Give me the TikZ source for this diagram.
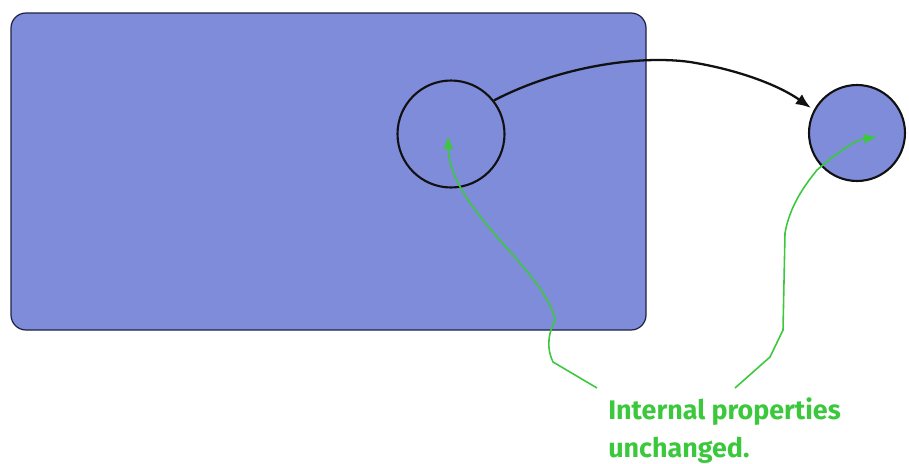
\documentclass[tikz,border=0pt]{standalone}
\usepackage{fontspec}
\setsansfont{Fira Sans}
\usetikzlibrary{arrows.meta,calc,positioning}
\definecolor{ink}{HTML}{111111}
\definecolor{slab}{HTML}{7F8CDA}
\definecolor{slabedge}{HTML}{1F2240}
\definecolor{mark}{HTML}{3CC83C}
\tikzset{
  bulk/.style={draw=slabedge,fill=slab,line width=0.7pt,rounded corners=0.3cm},
  zone/.style={circle,draw=ink,line width=1.2pt,inner sep=0pt},
  carry/.style={-{Latex[length=3mm,width=2.4mm]},line width=1.3pt,draw=ink},
  pointer/.style={-{Latex[length=2.6mm,width=2mm]},line width=0.9pt,draw=mark}
}
\begin{document}
\begin{tikzpicture}[
    x=0.02cm,y=-0.02cm,
    note/.style={font=\sffamily\bfseries\fontsize{15.3}{21.6}\selectfont,text=mark,align=left,inner sep=0pt}
  ]
    \useasboundingbox (0,0) rectangle (909,463);

    \draw[bulk] (11,13) rectangle (646,330);
    \node[zone,minimum size=2.14cm] (inner) at (451,134) {};
    \node[zone,fill=slab,minimum size=1.92cm] (outer) at (857,133) {};

    \coordinate (dotA) at (448,136);
    \coordinate (dotB) at (877,137);
    \coordinate (tailA) at (597,388);
    \coordinate (tailB) at (735,388);

    \node[note,anchor=base west] (label) at (608,457) {Internal properties\\unchanged.};

    \draw[carry,shorten >=2pt] (inner.38) .. controls (560,66) and (640,55) .. (690,62)
        .. controls (740,70) and (780,86) .. (outer.152);

    \draw[pointer] (tailA) -- (553,362) .. controls (545,345) and (550,330) .. (555,320)
        .. controls (545,270) and (450,210) .. (dotA);
    \draw[pointer] (tailB) -- (770,357) -- (783,330) -- (785,233)
        .. controls (790,205) and (805,185) .. (817,170)
        .. controls (838,152) and (855,140) .. (dotB);
\end{tikzpicture}
\end{document}
